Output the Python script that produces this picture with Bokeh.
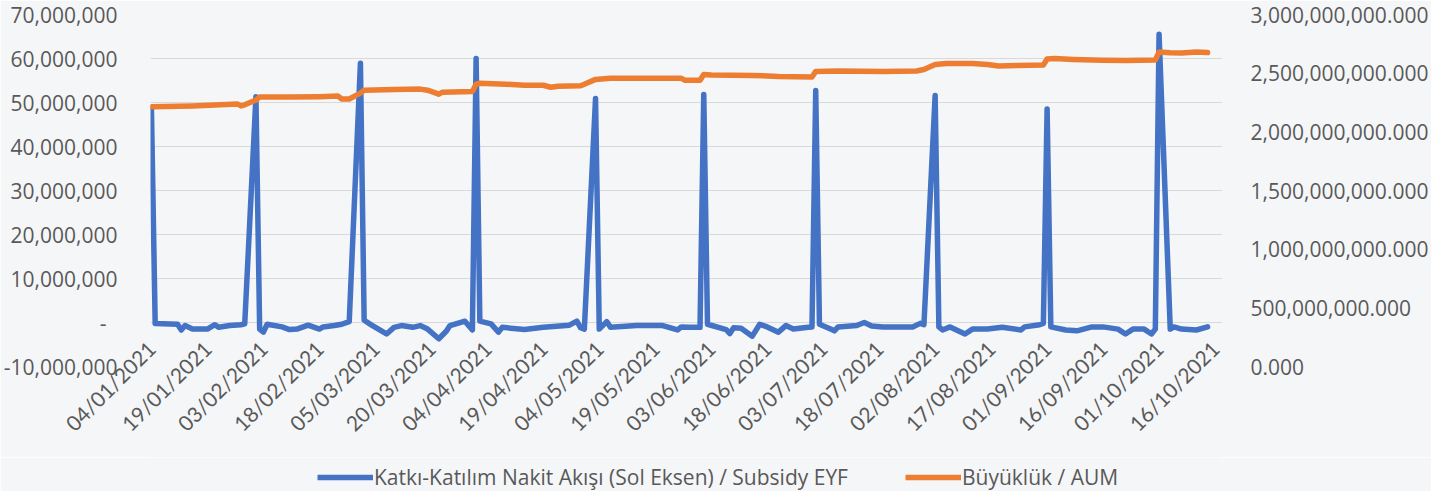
import pandas as pd
from math import pi
from bokeh.plotting import figure
from bokeh.layouts import column
from bokeh.models import (Range1d, LinearAxis, FixedTicker, DatetimeTickFormatter,
                          NumeralTickFormatter, CustomJSTickFormatter, Legend,
                          LegendItem, ColumnDataSource)
from bokeh.embed import file_html
from bokeh.resources import INLINE

# ---- data ----
# Katkı-Katılım Nakit Akışı (left axis), values in millions TRY
blue_dates = [
    "2021-01-04", "2021-01-05", "2021-01-11", "2021-01-12", "2021-01-13", "2021-01-15",
    "2021-01-19", "2021-01-21", "2021-01-22", "2021-01-25", "2021-01-28", "2021-01-29",
    "2021-02-01", "2021-02-02", "2021-02-03", "2021-02-04", "2021-02-08", "2021-02-10",
    "2021-02-12", "2021-02-15", "2021-02-18", "2021-02-19", "2021-02-22", "2021-02-24",
    "2021-02-26", "2021-03-01", "2021-03-02", "2021-03-04", "2021-03-08", "2021-03-10",
    "2021-03-12", "2021-03-15", "2021-03-17", "2021-03-19", "2021-03-22", "2021-03-24",
    "2021-03-25", "2021-03-29", "2021-03-31", "2021-04-01", "2021-04-02", "2021-04-05",
    "2021-04-07", "2021-04-08", "2021-04-14", "2021-04-19", "2021-04-26", "2021-04-28",
    "2021-04-29", "2021-04-30", "2021-05-03", "2021-05-04", "2021-05-06", "2021-05-07",
    "2021-05-14", "2021-05-21", "2021-05-25", "2021-05-26", "2021-05-28", "2021-05-31",
    "2021-06-01", "2021-06-02", "2021-06-07", "2021-06-08", "2021-06-09", "2021-06-11",
    "2021-06-14", "2021-06-16", "2021-06-18", "2021-06-21", "2021-06-23", "2021-06-25",
    "2021-06-29", "2021-06-30", "2021-07-01", "2021-07-02", "2021-07-05", "2021-07-06",
    "2021-07-07", "2021-07-12", "2021-07-14", "2021-07-16", "2021-07-19", "2021-07-27",
    "2021-07-29", "2021-07-30", "2021-08-02", "2021-08-03", "2021-08-04", "2021-08-06",
    "2021-08-10", "2021-08-12", "2021-08-16", "2021-08-20", "2021-08-25", "2021-08-26",
    "2021-08-30", "2021-08-31", "2021-09-01", "2021-09-02", "2021-09-06", "2021-09-09",
    "2021-09-13", "2021-09-16", "2021-09-20", "2021-09-22", "2021-09-24", "2021-09-27",
    "2021-09-29", "2021-09-30", "2021-10-01", "2021-10-04", "2021-10-05", "2021-10-07",
    "2021-10-11", "2021-10-14",
]
blue_values_m = [
    48.7, -0.2, -0.4, -1.7, -0.7, -1.5,
    -1.5, -0.5, -1.1, -0.7, -0.5, -0.3,
    51.3, -1.5, -2.2, -0.4, -1.0, -1.6,
    -1.5, -0.6, -1.5, -1.0, -0.7, -0.4,
    0.2, 58.9, 0.5, -0.6, -2.6, -1.1,
    -0.7, -1.1, -0.7, -1.5, -3.7, -2.0,
    -0.7, 0.3, -1.7, 60.0, 0.3, -0.3,
    -2.2, -1.1, -1.6, -1.1, -0.6, 0.3,
    -1.2, -1.5, 50.9, -1.5, 0.2, -1.1,
    -0.7, -0.7, -1.7, -1.0, -1.1, -1.1,
    51.8, -0.4, -1.6, -2.5, -1.2, -1.3,
    -3.1, -0.4, -1.0, -2.2, -0.7, -1.5,
    -1.1, -1.0, 52.7, -0.4, -1.5, -1.9,
    -1.0, -0.7, 0.0, -0.8, -1.0, -1.0,
    -0.2, -0.5, 51.6, -1.0, -1.7, -1.0,
    -2.6, -1.5, -1.5, -1.1, -1.7, -1.0,
    -0.5, -0.2, 48.5, -1.0, -1.7, -1.9,
    -1.0, -1.0, -1.5, -2.6, -1.5, -1.5,
    -2.6, -1.5, 65.5, -1.5, -1.0, -1.5,
    -1.7, -1.0,
]

# Büyüklük / AUM (right axis), values in billions TRY
aum_dates = [
    "2021-01-04", "2021-01-15", "2021-01-27", "2021-01-28", "2021-01-29", "2021-02-01",
    "2021-02-02", "2021-02-10", "2021-02-18", "2021-02-23", "2021-02-24", "2021-02-26",
    "2021-03-01", "2021-03-02", "2021-03-10", "2021-03-17", "2021-03-19", "2021-03-22",
    "2021-03-23", "2021-03-31", "2021-04-01", "2021-04-02", "2021-04-09", "2021-04-14",
    "2021-04-19", "2021-04-21", "2021-04-23", "2021-04-29", "2021-04-30", "2021-05-03",
    "2021-05-07", "2021-05-14", "2021-05-21", "2021-05-26", "2021-05-27", "2021-05-31",
    "2021-06-01", "2021-06-03", "2021-06-14", "2021-06-21", "2021-06-30", "2021-07-01",
    "2021-07-07", "2021-07-19", "2021-07-28", "2021-07-30", "2021-08-02", "2021-08-05",
    "2021-08-12", "2021-08-16", "2021-08-19", "2021-08-24", "2021-08-31", "2021-09-01",
    "2021-09-03", "2021-09-08", "2021-09-16", "2021-09-22", "2021-09-30", "2021-10-01",
    "2021-10-04", "2021-10-07", "2021-10-11", "2021-10-14",
]
aum_values_bn = [
    2.213, 2.221, 2.238, 2.221, 2.230, 2.271,
    2.297, 2.297, 2.300, 2.305, 2.280, 2.280,
    2.330, 2.355, 2.360, 2.364, 2.355, 2.321,
    2.338, 2.343, 2.406, 2.414, 2.406, 2.397,
    2.397, 2.380, 2.389, 2.393, 2.406, 2.447,
    2.456, 2.456, 2.456, 2.456, 2.439, 2.439,
    2.489, 2.485, 2.481, 2.472, 2.468, 2.515,
    2.519, 2.515, 2.519, 2.531, 2.573, 2.582,
    2.582, 2.573, 2.561, 2.565, 2.570, 2.620,
    2.624, 2.617, 2.611, 2.607, 2.612, 2.680,
    2.674, 2.672, 2.680, 2.676,
]

tick_dates = [
    "2021-01-04", "2021-01-19", "2021-02-03", "2021-02-18", "2021-03-05", "2021-03-20",
    "2021-04-04", "2021-04-19", "2021-05-04", "2021-05-19", "2021-06-03", "2021-06-18",
    "2021-07-03", "2021-07-18", "2021-08-02", "2021-08-17", "2021-09-01", "2021-09-16",
    "2021-10-01", "2021-10-16",
]
left_ticks = [-10e6, 0, 10e6, 20e6, 30e6, 40e6, 50e6, 60e6, 70e6]
right_ticks = [0, 0.5e9, 1.0e9, 1.5e9, 2.0e9, 2.5e9, 3.0e9]

label_blue = "Katkı-Katılım Nakit Akışı (Sol Eksen) / Subsidy EYF"
label_aum = "Büyüklük / AUM"

# ---- build ----
def ms(s):
    return pd.Timestamp(s).value / 1e6

blue_src = ColumnDataSource(dict(x=pd.to_datetime(blue_dates),
                                 y=[v * 1e6 for v in blue_values_m]))
aum_src = ColumnDataSource(dict(x=pd.to_datetime(aum_dates),
                                y=[v * 1e9 for v in aum_values_bn]))

BG = "#F5F6F8"
TXT = "#595959"
BLUE = "#4472C4"
ORANGE = "#ED7D31"

p = figure(width=1431, height=457, x_axis_type="datetime",
           x_range=Range1d(ms("2021-01-04") - 0.25 * 86400000, ms("2021-10-18")),
           y_range=Range1d(left_ticks[0], left_ticks[-1]),
           output_backend="svg", toolbar_location=None,
           min_border_left=149, min_border_right=205, min_border_top=14, min_border_bottom=91,
           background_fill_color=BG, border_fill_color=BG, outline_line_color=None)

p.extra_y_ranges = {"aum": Range1d(right_ticks[0], right_ticks[-1])}

# left axis
ly = p.yaxis[0]
ly.ticker = FixedTicker(ticks=left_ticks)
ly.formatter = CustomJSTickFormatter(code="return tick == 0 ? '-  ' : tick.toLocaleString('en-US');")
ly.axis_line_color = None
ly.major_tick_line_color = None
ly.minor_tick_line_color = None
ly.major_label_text_font = "Open Sans"
ly.major_label_text_font_size = "21px"
ly.major_label_text_color = TXT
ly.major_label_standoff = 27

# right axis
ry = LinearAxis(y_range_name="aum", ticker=FixedTicker(ticks=right_ticks),
                formatter=NumeralTickFormatter(format="0,0.000"),
                axis_line_color=None, major_tick_line_color=None, minor_tick_line_color=None,
                major_label_text_font="Open Sans", major_label_text_font_size="21px",
                major_label_text_color=TXT, major_label_standoff=22)
p.add_layout(ry, "right")

# x axis: labels pulled up next to the zero line
fmt = "%d/%m/%Y"
xa = p.xaxis[0]
xa.ticker = FixedTicker(ticks=[ms(d) for d in tick_dates])
xa.formatter = DatetimeTickFormatter(days=fmt, months=fmt, years=fmt, hours=fmt,
                                     hourmin=fmt, minutes=fmt, minsec=fmt, seconds=fmt,
                                     milliseconds=fmt, microseconds=fmt)
xa.major_label_orientation = pi / 4
xa.axis_line_color = None
xa.major_tick_line_color = None
xa.minor_tick_line_color = None
xa.major_label_text_font = "Lato"
xa.major_label_text_font_size = "21px"
xa.major_label_text_color = TXT
xa.major_label_standoff = -28

p.xgrid.grid_line_color = None
p.ygrid.grid_line_color = "#D9D9D9"
p.ygrid.grid_line_width = 1.2

r_blue = p.line("x", "y", source=blue_src, line_color=BLUE, line_width=5.5,
                line_join="round", line_cap="round")
r_aum = p.line("x", "y", source=aum_src, y_range_name="aum", line_color=ORANGE,
               line_width=5.5, line_join="round", line_cap="round")

# ---- legend strip below the chart (its frame is aligned with the chart's frame) ----
leg = figure(width=1431, height=34, x_axis_location=None, y_axis_location=None,
             x_range=Range1d(0, 1), y_range=Range1d(0, 1),
             output_backend="svg", toolbar_location=None, min_border=0,
             background_fill_color=BG, border_fill_color=BG, outline_line_color=None)
leg.xgrid.visible = False
leg.ygrid.visible = False
# same series, far outside this strip's ranges: only their legend glyphs show
lb = leg.line("x", "y", source=blue_src, line_color=BLUE, line_width=5.5)
lo = leg.line("x", "y", source=aum_src, line_color=ORANGE, line_width=5.5)
legend = Legend(items=[LegendItem(label=label_blue, renderers=[lb]),
                       LegendItem(label=label_aum, renderers=[lo])],
                orientation="horizontal", location=(167, 0),
                border_line_color=None, background_fill_alpha=0,
                label_text_font="Open Sans", label_text_font_size="21px",
                label_text_color=TXT, glyph_width=56, glyph_height=22,
                spacing=57, padding=0, margin=0, label_standoff=1)
leg.add_layout(legend)

layout = column(p, leg, spacing=0)
open("out.html", "w").write(file_html(layout, INLINE))
